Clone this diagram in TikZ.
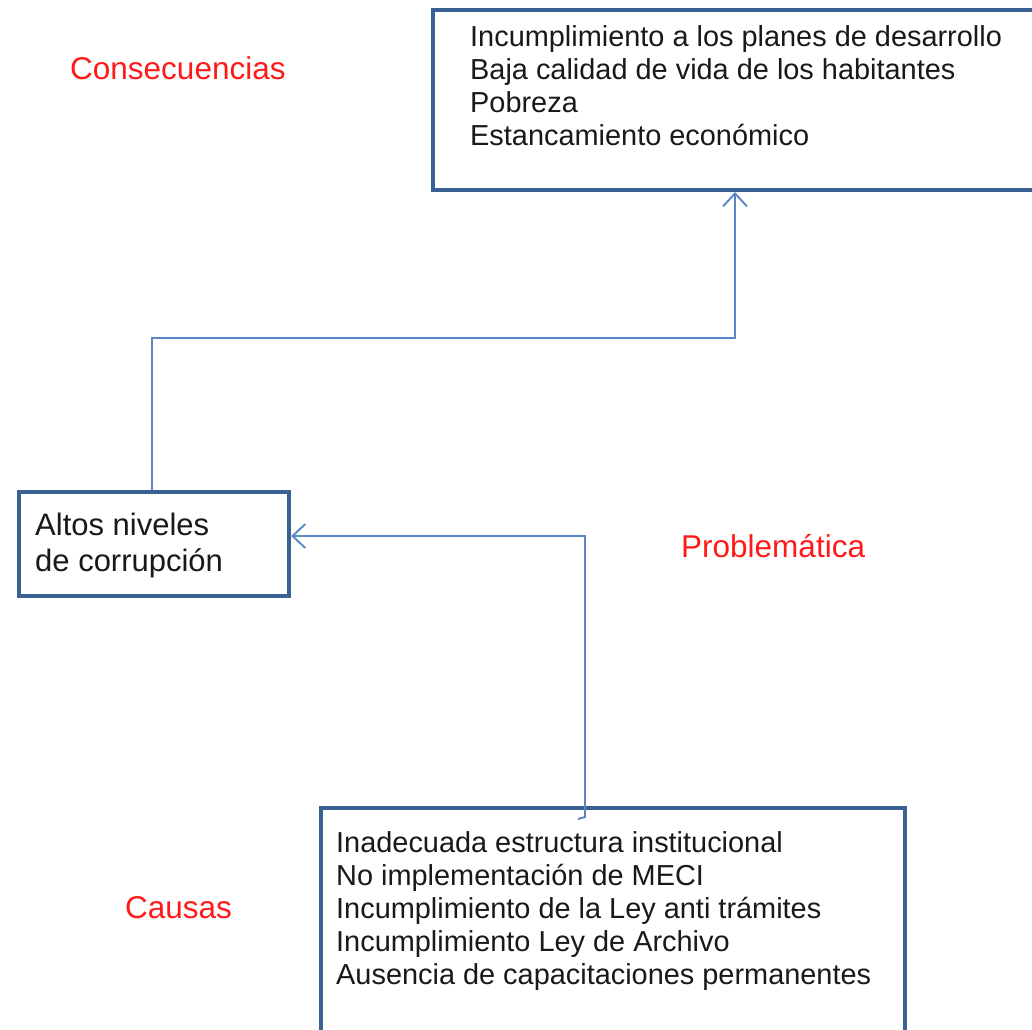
\documentclass[tikz,border=0pt]{standalone}
\usepackage{fontspec}
\setmainfont{Liberation Sans}
\usetikzlibrary{arrows.meta}
\definecolor{boxblue}{HTML}{3A6193}
\definecolor{linkblue}{HTML}{5B87C4}
\definecolor{labred}{HTML}{FF1A1A}
\tikzset{
  boxframe/.style={draw=boxblue, line width=4pt, rectangle, inner sep=0pt, fill=white},
  boxtext/.style={anchor=north west, inner sep=0pt, align=left, text=black!90},
  redlabel/.style={anchor=base west, inner sep=0pt, text=labred, font=\fontsize{31.5}{36}\selectfont},
  link/.style={draw=linkblue, line width=1.9pt, -{Straight Barb[length=13pt,width=24pt,line width=1.9pt]}}
}
\begin{document}
\begin{tikzpicture}[x=1pt,y=-1pt]
\useasboundingbox (0,0) rectangle (1032,1029);
\begin{scope}
\clip (0,0) rectangle (1032,1029);
% boxes
\node[boxframe, minimum width=610pt, minimum height=180pt, anchor=north west] (cons) at (431,8) {};
\node[boxframe, minimum width=270pt, minimum height=104pt, anchor=north west] (prob) at (17,490) {};
\node[boxframe, minimum width=584pt, minimum height=240pt, anchor=north west] (caus) at (319,806) {};
\end{scope}
% texts
\node[boxtext, font=\fontsize{28.9}{33}\selectfont] (constext) at (470,25)
  {Incumplimiento a los planes de desarrollo\\Baja calidad de vida de los habitantes\\Pobreza\\Estancamiento económico};
\node[boxtext, font=\fontsize{31}{36}\selectfont] (probtext) at (35,513)
  {Altos niveles\\de corrupción};
\node[boxtext, font=\fontsize{28.9}{33}\selectfont] (caustext) at (336,831)
  {Inadecuada estructura institucional\\No implementación de MECI\\Incumplimiento de la Ley anti trámites\\Incumplimiento Ley de Archivo\\Ausencia de capacitaciones permanentes};
% red labels
\node[redlabel] (lcons) at (70,79) {Consecuencias};
\node[redlabel] (lprob) at (681,557) {Problemática};
\node[redlabel] (lcaus) at (125,918) {Causas};
% connectors
\coordinate (hook) at (578,819);
\draw[link] (prob.north -| 152,0) |- (735,338) -- (cons.south -| 735,0);
\draw[link] (hook) -- (585,817) -- (585,536) -- (prob.east |- 0,536);
\end{tikzpicture}
\end{document}
